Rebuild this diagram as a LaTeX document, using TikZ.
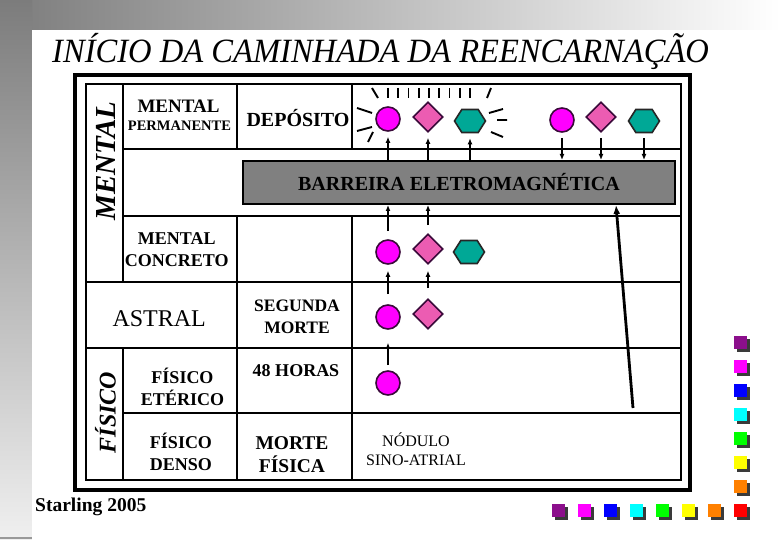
\documentclass[tikz,border=0pt]{standalone}
\usepackage{fontspec}
\usepackage{graphicx}
\setmainfont{Liberation Serif}
\usetikzlibrary{shapes.geometric,shapes.symbols,arrows.meta}

\definecolor{ballpink}{HTML}{FF00FF}
\definecolor{ballrim}{HTML}{3A0A3A}
\definecolor{diampink}{HTML}{EC5CB2}
\definecolor{hexteal}{HTML}{00A896}
\definecolor{barriergray}{HTML}{808080}
\definecolor{slidegray}{HTML}{7C7C7C}
\definecolor{sqpurple}{HTML}{8C0F8C}
\definecolor{sqmagenta}{HTML}{FF00FF}
\definecolor{sqblue}{HTML}{0000FF}
\definecolor{sqcyan}{HTML}{00FFFF}
\definecolor{sqgreen}{HTML}{00FF00}
\definecolor{sqyellow}{HTML}{FFFF00}
\definecolor{sqorange}{HTML}{FF8000}
\definecolor{sqred}{HTML}{FF0000}
\definecolor{sqshadow}{HTML}{3A3A3A}

\begin{document}
\begin{tikzpicture}
 [x=1pt, y=-1pt,
  ball/.style={circle, draw=ballrim, line width=1.6pt, fill=ballpink, minimum size=24pt, inner sep=0pt},
  gem/.style={diamond, draw=ballrim, line width=1.6pt, fill=diampink, minimum width=30pt, minimum height=30pt, inner sep=0pt},
  hexa/.style={signal, signal to=east and west, signal pointer angle=115, draw=black!85, line width=1.6pt, fill=hexteal, minimum width=31pt, minimum height=23pt, inner sep=0pt},
  lab/.style={font=\bfseries\fontsize{18}{22}\selectfont, align=center, inner sep=0pt},
  side/.style={rotate=90, anchor=base, inner sep=0pt},
  ray/.style={line width=1.9pt},
  grid/.style={line width=2pt},
  arr/.style={line width=1.8pt, -{Latex[length=6pt,width=5pt]}},
  bigarr/.style={line width=2.8pt, -{Latex[length=9pt,width=7pt]}}]

\useasboundingbox (0,0) rectangle (780,540);

% slide background
\shade[left color=slidegray, right color=white] (0,0) rectangle (780,30);
\shade[top color=slidegray, bottom color=white!94!black] (0,0) rectangle (32,540);
\fill[white] (32,30) rectangle (780,540);
\draw[gray!80, line width=1.5pt] (0,538) -- (32,538);

\node[anchor=base west, font=\itshape\fontsize{34}{38}\selectfont, inner sep=0pt] (title) at (52,63)
  {\scalebox{0.958}[1]{INÍCIO DA CAMINHADA DA REENCARNAÇÃO}};

% table
\draw[line width=4.5pt] (75,75) rectangle (690,490);
\draw[grid] (86,84) rectangle (681,480);
\draw[grid] (123,84) -- (123,282) (123,348) -- (123,480);
\draw[grid] (237,84) -- (237,149.5) (237,216) -- (237,480);
\draw[grid] (352,84) -- (352,149.5) (352,216) -- (352,480);
\draw[grid] (123,149.5) -- (681,149.5) (123,216) -- (681,216);
\draw[grid] (86,282) -- (681,282) (86,348) -- (681,348) (123,413) -- (681,413);

\node[draw, line width=2pt, fill=barriergray, minimum width=432pt, minimum height=43pt, inner sep=0pt,
      font=\bfseries\fontsize{20}{24}\selectfont] (barrier) at (459,182.5) {BARREIRA ELETROMAGNÉTICA};

\node[side, font=\bfseries\itshape\fontsize{29}{32}\selectfont] (mentalside) at (115,161) {MENTAL};
\node[side, font=\bfseries\itshape\fontsize{24}{28}\selectfont] (fisicoside) at (115.5,412.5) {FÍSICO};

\node[lab, font=\bfseries\fontsize{19}{22}\selectfont] (mentalp) at (178.5,106) {MENTAL};
\node[lab, font=\bfseries\fontsize{14.5}{16}\selectfont] (perm) at (179.5,126) {PERMANENTE};
\node[lab, font=\bfseries\fontsize{20}{24}\selectfont] (dep) at (298,118) {DEPÓSITO};
\node[lab] (mentalc) at (176.7,250) {MENTAL\\CONCRETO};
\node[font=\fontsize{24}{28}\selectfont, inner sep=0pt] (astral) at (159.2,318.3) {ASTRAL};
\node[lab, font=\bfseries\fontsize{17.5}{22}\selectfont] (segunda) at (297,316.4) {SEGUNDA\\MORTE};
\node[lab] (eterico) at (182.5,386.7) {FÍSICO\\ETÉRICO};
\node[lab] (horas) at (296,370.5) {48 HORAS};
\node[lab] (denso) at (181,452.3) {FÍSICO\\DENSO};
\node[lab, font=\bfseries\fontsize{19.5}{23}\selectfont] (morte) at (292,454.5) {MORTE\\FÍSICA};
\node[font=\fontsize{16}{19}\selectfont, align=center, inner sep=0pt] (nodulo) at (416,449) {NÓDULO\\SINO-ATRIAL};

\node[anchor=base west, font=\bfseries\fontsize{19.5}{22}\selectfont, inner sep=0pt] (ref) at (35,511) {Starling 2005};

% deposit
\node[ball] (c1) at (388,119) {};
\node[gem]  (d1) at (428,117) {};
\node[hexa] (h1) at (470,121) {};
\node[ball] (c2) at (562,120) {};
\node[gem]  (d2) at (601,117) {};
\node[hexa] (h2) at (644,121) {};
% lower planes
\node[ball] (c3) at (388,252) {};
\node[gem]  (d3) at (428,249) {};
\node[hexa] (h3) at (469,252) {};
\node[ball] (c4) at (388,317) {};
\node[gem]  (d4) at (428,314) {};
\node[ball] (c5) at (388,383) {};

% glow
\draw[ray] (372,88) -- (378,98) (491,88) -- (487,98);
\foreach \x in {388,398.25,...,471} \draw[ray] (\x,88) -- (\x,98);
\draw[ray] (357,108) -- (372,113) (357,131) -- (372,127) (368,142) -- (373,132);
\draw[ray] (489,113) -- (503,109) (497,120) -- (507,120) (491,132) -- (503,137);

\path
  (barrier.north -| c1) edge [arr, shorten >=5pt] (c1)
  (barrier.north -| d1) edge [arr, shorten >=5pt] (d1)
  (barrier.north -| h1) edge [arr, shorten >=5pt] (h1)
  (c2) edge [arr, shorten <=5pt] (c2 |- barrier.north)
  (d2) edge [arr, shorten <=5pt] (d2 |- barrier.north)
  (h2) edge [arr, shorten <=5pt] (h2 |- barrier.north)
  (c3) edge [arr, shorten <=8pt] (c3 |- barrier.south)
  (d3) edge [arr, shorten <=8pt] (d3 |- barrier.south)
  (c4) edge [arr, shorten <=10pt, shorten >=6pt] (c3)
  (d4) edge [arr, shorten <=10pt, shorten >=6pt] (d3)
  (c5) edge [arr, shorten <=5pt, shorten >=13pt] (c4);

\coordinate (sa) at (633,408);
\path (sa) edge [bigarr] ([xshift=157pt]barrier.south);

% colour squares
\foreach \c [count=\i from 0] in {sqpurple,sqmagenta,sqblue,sqcyan,sqgreen,sqyellow,sqorange,sqred}{
  \fill[sqshadow] (555+26*\i,507) rectangle ++(13,13);
  \fill[\c] (552+26*\i,504) rectangle ++(13,13);
  \fill[sqshadow] (737,339+24*\i) rectangle ++(13,13);
  \fill[\c] (734,336+24*\i) rectangle ++(13,13);
}

\end{tikzpicture}
\end{document}
